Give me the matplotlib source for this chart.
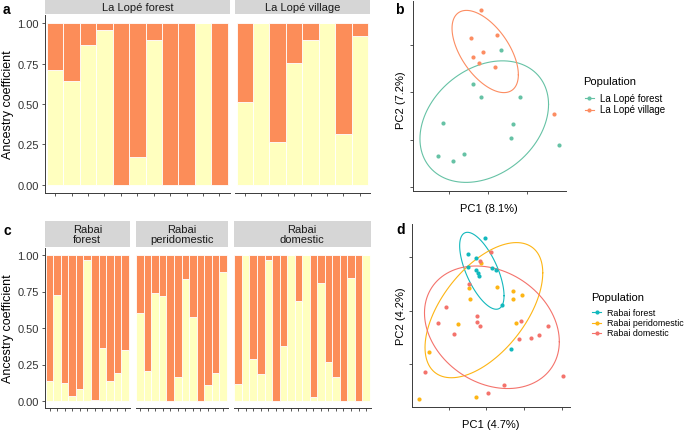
import numpy as np
import matplotlib.pyplot as plt
from matplotlib.lines import Line2D

plt.rcParams['font.family'] = ['Liberation Sans', 'DejaVu Sans']

W, H = 685, 431

# ancestry coefficient (lower, yellow component) per individual
lope_forest_q = [0.71, 0.645, 0.865, 0.957, 0.0, 0.174, 0.897, 0.0, 0.0, 1.0, 0.0]
lope_village_q = [0.514, 1.0, 0.265, 0.755, 0.894, 1.0, 0.316, 0.92]
rabai_forest_q = [0.139, 0.726, 0.121, 0.037, 0.082, 0.966, 0.007, 0.363, 0.139, 0.19, 0.349]
rabai_peri_q = [0.603, 0.208, 0.74, 0.721, 0.0, 0.167, 0.836, 0.573, 0.0, 0.112, 0.19, 0.886]
rabai_dom_q = [0.116, 1.0, 0.288, 0.183, 0.966, 0.0, 0.379, 1.0, 0.683, 1.0, 0.03,
               0.808, 0.265, 0.162, 0.0, 0.845, 0.0, 1.0]

# PCA scores, La Lope
lope_forest_pc1 = [1.31, 0.60, 0.80, 1.82, -0.16, 1.62, 1.58, 2.81, -0.29, 0.36, 0.08]
lope_forest_pc2 = [2.89, 2.17, 1.90, 1.91, 1.35, 1.33, 1.04, 0.89, 0.66, 0.70, 0.55]
lope_village_pc1 = [0.81, 1.21, 0.55, 0.85, 0.61, 0.76, 1.18, 2.67]
lope_village_pc2 = [3.75, 3.22, 3.14, 2.85, 2.74, 2.63, 2.53, 1.55]

# PCA scores, Rabai
rabai_forest_pc1 = [0.96, 0.51, 0.74, 0.51, 0.73, 0.79, 0.81, 1.15, 1.27, 1.41, 1.66]
rabai_forest_pc2 = [2.36, 2.06, 1.98, 1.83, 1.77, 1.70, 1.66, 1.81, 1.76, 1.11, 0.29]
rabai_peri_pc1 = [0.87, 0.53, 0.56, 1.29, 1.70, 1.72, 1.96, 0.24, 1.79, -0.53, -0.78, 0.72]
rabai_peri_pc2 = [1.89, 1.43, 1.23, 1.45, 1.37, 1.22, 1.30, 0.76, 0.78, 0.23, -0.64, -0.61]
rabai_dom_pc1 = [1.12, 0.83, 0.54, -0.08, -0.29, 0.76, 0.76, 0.83, 0.15, 1.92, 1.86,
                 2.18, 2.39, 2.65, -0.62, 1.47, 1.04, 3.03]
rabai_dom_pc2 = [2.11, 1.93, 1.51, 1.07, 0.77, 0.90, 0.80, 0.71, 0.56, 0.82, 0.48,
                 0.49, 0.55, 0.71, -0.14, -0.39, -0.53, -0.22]

ELLIPSE_LEVEL = 0.8

YELLOW = '#FFFFBF'
ORANGE = '#FC8D59'
AXCOL = '#3a3a3a'
TXT = '#333333'


def px(x0, y0, x1, y1):
    return [x0 / W, 1 - y1 / H, (x1 - x0) / W, (y1 - y0) / H]


def cov_trob(x, nu=5, maxit=25, tol=0.01):
    # robust t covariance like MASS::cov.trob (used by stat_ellipse)
    n, p = x.shape
    wt = np.ones(n)
    loc = x.mean(0)
    w = np.sqrt(wt)
    for _ in range(maxit):
        w0 = w
        X = x - loc
        _, d, vt = np.linalg.svd(np.sqrt(w / w.sum())[:, None] * X, full_matrices=False)
        wX = X @ vt.T @ np.diag(1 / d)
        Q = (wX ** 2).sum(1)
        w = wt * (nu + p) / (nu + Q)
        loc = (w[:, None] * x).sum(0) / w.sum()
        if np.all(np.abs(w - w0) < tol):
            break
    sX = np.sqrt(w)[:, None] * X
    return sX.T @ sX / wt.sum(), loc


def ellipse(xs, ys, level=ELLIPSE_LEVEL, seg=120):
    pts = np.column_stack([xs, ys])
    cov, loc = cov_trob(pts)
    dfd = len(xs) - 1
    f = dfd / 2 * ((1 - level) ** (-2 / dfd) - 1)  # qf(level, 2, dfd)
    r = np.sqrt(2 * f)
    L = np.linalg.cholesky(cov)
    a = np.linspace(0, 2 * np.pi, seg + 1)
    circ = np.column_stack([np.cos(a), np.sin(a)])
    e = loc + r * circ @ L.T
    return e[:, 0], e[:, 1]


def bar_row(groups, labels, x0, x1, strip_top, strip_bot, top, bottom, gap, m=0.12):
    units = [len(g) + 2 * m for g in groups]
    k = (x1 - x0 - gap * (len(groups) - 1)) / sum(units)
    left = x0
    for i, (q, lab) in enumerate(zip(groups, labels)):
        right = left + units[i] * k
        q = np.array(q)
        n = len(q)
        idx = np.arange(n)
        ax = fig.add_axes(px(left, top, right, bottom))
        ax.bar(idx, q, width=1, color=YELLOW, edgecolor='white', linewidth=0.6)
        ax.bar(idx, 1 - q, bottom=q, width=1, color=ORANGE, edgecolor='white', linewidth=0.6)
        ax.set_xlim(-0.5 - m, n - 0.5 + m)
        ax.set_ylim(-0.05, 1.05)
        ax.set_xticks(idx)
        ax.tick_params(axis='x', length=2.5, width=0.6, color=AXCOL, labelbottom=False)
        for s in ['top', 'right']:
            ax.spines[s].set_visible(False)
        ax.spines['bottom'].set_color(AXCOL)
        ax.spines['bottom'].set_linewidth(0.7)
        if i == 0:
            ax.set_yticks([0, 0.25, 0.5, 0.75, 1.0])
            ax.set_yticklabels(['0.00', '0.25', '0.50', '0.75', '1.00'], fontsize=8, color=TXT)
            ax.tick_params(axis='y', length=2.5, width=0.6, color=AXCOL, pad=2)
            ax.spines['left'].set_color(AXCOL)
            ax.spines['left'].set_linewidth(0.7)
            ax.set_ylabel('Ancestry coefficient', fontsize=9, color='black', labelpad=2)
        else:
            ax.spines['left'].set_visible(False)
            ax.tick_params(axis='y', left=False, labelleft=False)
        sax = fig.add_axes(px(left, strip_top, right, strip_bot))
        sax.set_facecolor('#D6D6D6')
        sax.set_xticks([])
        sax.set_yticks([])
        for s in sax.spines.values():
            s.set_visible(False)
        sax.text(0.5, 0.5, lab, ha='center', va='center', fontsize=8, color='#1a1a1a',
                 linespacing=1.05, transform=sax.transAxes)
        left = right + gap


def pca_panel(box, groups, colors, xticks, yticks, xlabel, ylabel, xlab_pos, ylab_pos):
    ax = fig.add_axes(px(*box))
    allx, ally = [], []
    for (xs, ys), c in zip(groups, colors):
        ex, ey = ellipse(xs, ys)
        ax.plot(ex, ey, color=c, lw=0.8)
        ax.scatter(xs, ys, s=9, color=c, linewidths=0, zorder=3)
        allx += list(xs) + list(ex)
        ally += list(ys) + list(ey)
    dx = (max(allx) - min(allx)) * 0.05
    dy = (max(ally) - min(ally)) * 0.05
    ax.set_xlim(min(allx) - dx, max(allx) + dx)
    ax.set_ylim(min(ally) - dy, max(ally) + dy)
    ax.set_xticks(xticks)
    ax.set_yticks(yticks)
    ax.tick_params(length=2.5, width=0.6, color=AXCOL, labelbottom=False, labelleft=False)
    for s in ['top', 'right']:
        ax.spines[s].set_visible(False)
    for s in ['left', 'bottom']:
        ax.spines[s].set_color(AXCOL)
        ax.spines[s].set_linewidth(0.7)
    fig.text(xlab_pos[0] / W, 1 - xlab_pos[1] / H, xlabel, ha='center', va='center', fontsize=8)
    fig.text(ylab_pos[0] / W, 1 - ylab_pos[1] / H, ylabel, ha='center', va='center',
             fontsize=8, rotation=90)


def legend(x_title, y_title, x_key, x_lab, ys, labels, colors, fs):
    fig.text(x_title / W, 1 - y_title / H, 'Population', ha='left', va='center', fontsize=8)
    for y, lab, c in zip(ys, labels, colors):
        fy = 1 - y / H
        fig.add_artist(Line2D([(x_key - 4.5) / W, (x_key + 4.5) / W], [fy, fy], color=c, lw=0.8))
        fig.add_artist(Line2D([x_key / W], [fy], marker='o', ms=3, color=c, mew=0))
        fig.text(x_lab / W, fy, lab, ha='left', va='center', fontsize=fs)


fig = plt.figure(figsize=(W / 100, H / 100), dpi=100)

# a
bar_row([lope_forest_q, lope_village_q], ['La Lopé forest', 'La Lopé village'],
        45, 370, 1, 15, 16, 194, 5)
# c
bar_row([rabai_forest_q, rabai_peri_q, rabai_dom_q],
        ['Rabai\nforest', 'Rabai\nperidomestic', 'Rabai\ndomestic'],
        45, 370.7, 222, 248, 248.7, 409.3, 6)

# b
col_b = ['#66C2A5', '#FC8D62']
pca_panel((413, 2, 566, 192),
          [(lope_forest_pc1, lope_forest_pc2), (lope_village_pc1, lope_village_pc2)],
          col_b, [0, 1, 2], [0, 1, 2, 3], 'PC1 (8.1%)', 'PC2 (7.2%)', (489, 209), (401, 100))
legend(583, 82, 589, 600, [99, 110.5], ['La Lopé forest', 'La Lopé village'], col_b, 7)

# d
col_d = ['#12B8BD', '#FDB515', '#F4736C']
pca_panel((412, 225, 570, 408),
          [(rabai_forest_pc1, rabai_forest_pc2), (rabai_peri_pc1, rabai_peri_pc2),
           (rabai_dom_pc1, rabai_dom_pc2)],
          col_d, [0, 1, 2, 3], [0, 1, 2], 'PC1 (4.7%)', 'PC2 (4.2%)', (490.5, 425), (401, 316))
legend(590.7, 298, 596.7, 606.7, [313.3, 323.5, 334],
       ['Rabai forest', 'Rabai peridomestic', 'Rabai domestic'], col_d, 6.4)

# panel letters
for lab, (x, y) in zip('abcd', [(3, 10), (395, 10), (3, 231), (396, 230)]):
    fig.text(x / W, 1 - y / H, lab, fontsize=10, fontweight='bold', ha='left', va='center')

fig.savefig('out.png', dpi=100)
